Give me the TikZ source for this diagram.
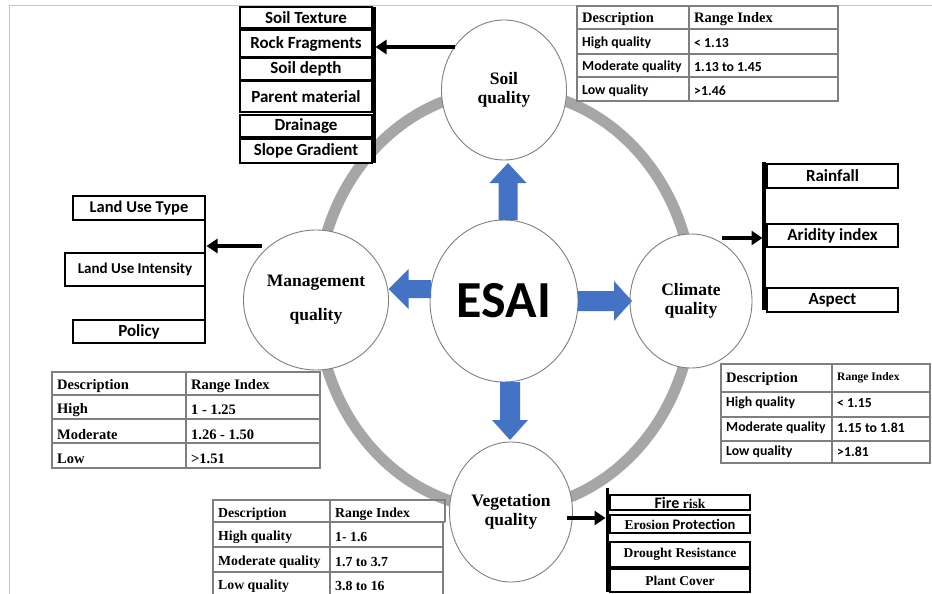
\documentclass[tikz,border=0pt]{standalone}
\usepackage{fontspec}
\setmainfont{Liberation Serif}
\newfontfamily\calfont{Carlito}
\usetikzlibrary{shapes.geometric,arrows.meta,calc}
\definecolor{ringgray}{HTML}{A6A6A6}
\definecolor{esaiblue}{HTML}{4472C4}
\definecolor{tabline}{HTML}{7F7F7F}
\definecolor{framegray}{HTML}{C8C8C8}
\newcommand\esaiblockarrow[5]{% from, to, shaft half width, head half width, head length
  \coordinate (bah) at ($(#2)!#5!(#1)$);
  \fill[esaiblue] ($(#1)!#3!90:(#2)$) -- ($(bah)!#3!90:(#2)$) -- ($(bah)!#4!90:(#2)$) -- (#2)
    -- ($(bah)!#4!-90:(#2)$) -- ($(bah)!#3!-90:(#2)$) -- ($(#1)!#3!-90:(#2)$) -- cycle;
}
\begin{document}
\begin{tikzpicture}[x=1pt,y=-1pt,
  qcircle/.style={ellipse, draw=tabline, line width=0.9pt, fill=white, inner sep=0pt, outer sep=0pt,
    align=center, font=\fontsize{17.5}{19}\selectfont\bfseries},
  listbox/.style={draw=black, line width=2.4pt, fill=white, inner sep=0pt,
    font=\calfont\bfseries\fontsize{17}{18}\selectfont},
  serbox/.style={listbox, font=\bfseries\fontsize{13.5}{15}\selectfont},
  vbar/.style={line width=3pt, draw=black},
  blackarrow/.style={line width=3.6pt, -{Triangle[length=11pt,width=14pt]}, shorten >=1.5pt},
  tline/.style={draw=tabline, line width=1.1pt},
  tser/.style={anchor=west, inner sep=0pt, font=\bfseries\fontsize{14.5}{16}\selectfont},
  tcal/.style={anchor=west, inner sep=0pt, font=\calfont\bfseries\fontsize{13.8}{16}\selectfont},
  vser/.style={tser, font=\bfseries\fontsize{13.8}{16}\selectfont},
]
\useasboundingbox (0,0) rectangle (932,594);
\fill[white] (0,0) rectangle (932,594);
% page frame
\draw[framegray, line width=0.8pt] (9,600) -- (9,5) -- (932,5);

% ring
\draw[ringgray, line width=11pt] (505,300) ellipse [x radius=188pt, y radius=210pt];

% circles
\node[qcircle, minimum width=125pt, minimum height=140pt] (soil) at (504,90) {Soil\\quality};
\node[qcircle, minimum width=122pt, minimum height=134pt] (climate) at (691,301) {Climate\\quality};
\node[qcircle, minimum width=145pt, minimum height=140pt] (mgmt) at (316,300) {Management\\[15pt]quality};
\node[qcircle, minimum width=123pt, minimum height=140pt] (veg) at (511,512) {Vegetation\\quality};
\node[qcircle, minimum width=148pt, minimum height=162pt, font=\calfont\bfseries\fontsize{52}{60}\selectfont] (esai) at (504,301) {ESAI};

% blue arrows
\coordinate (u1) at ($(esai.north)+(4,0)$);
\coordinate (u2) at ($(soil.south)+(4,3)$);
\esaiblockarrow{u1}{u2}{9.5pt}{18.5pt}{20pt}
\coordinate (r1) at (esai.east);
\coordinate (r2) at ($(climate.west)+(2,0)$);
\esaiblockarrow{r1}{r2}{10pt}{20pt}{18pt}
\coordinate (d1) at ($(esai.south)+(6,0)$);
\coordinate (d2) at ($(veg.north)+(-1,-2)$);
\esaiblockarrow{d1}{d2}{10pt}{18pt}{20pt}
\coordinate (l1) at ($(esai.west)+(1,-12)$);
\coordinate (l2) at ($(mgmt.east)+(0,-11)$);
\esaiblockarrow{l1}{l2}{9pt}{20pt}{20pt}

% ---- soil list
\node[listbox, minimum width=132pt, minimum height=21pt] (s1) at (306,17.5) {Soil Texture};
\node[listbox, minimum width=132pt, minimum height=27pt] (s2) at (306,43.5) {Rock Fragments};
\node[listbox, minimum width=132pt, minimum height=22pt] (s3) at (306,69) {Soil depth};
\node[listbox, minimum width=132pt, minimum height=31pt] (s4) at (306,96.5) {Parent material};
\node[listbox, minimum width=132pt, minimum height=22pt] (s5) at (306,126) {Drainage};
\node[listbox, minimum width=132pt, minimum height=24pt] (s6) at (306,151) {Slope Gradient};
\coordinate (sbt) at (374,7);
\coordinate (sbb) at (374,163);
\draw[vbar] (sbt) -- (sbb);
\coordinate (sfrom) at (455,47);
\draw[blackarrow] (sfrom) -- (sfrom -| sbt);

% ---- management list
\node[listbox, minimum width=132pt, minimum height=24pt, font=\calfont\bfseries\fontsize{16.5}{18}\selectfont] (m1) at (139,208) {Land Use Type};
\node[listbox, minimum width=140pt, minimum height=33pt, font=\calfont\bfseries\fontsize{15}{16}\selectfont] (m2) at (135,269.5) {Land Use Intensity};
\node[listbox, minimum width=132pt, minimum height=23pt] (m3) at (139,331.5) {Policy};
\coordinate (mbt) at (205,196);
\coordinate (mbb) at (205,343);
\draw[vbar, line width=2.4pt] (mbt) -- (mbb);
\coordinate (mfrom) at (262,246);
\draw[blackarrow] (mfrom) -- (mfrom -| mbt);

% ---- climate list
\node[listbox, minimum width=131pt, minimum height=24pt] (c1) at (832.5,176) {Rainfall};
\node[listbox, minimum width=131pt, minimum height=23pt] (c2) at (832.5,235.5) {Aridity index};
\node[listbox, minimum width=131pt, minimum height=24pt] (c3) at (832.5,300) {Aspect};
\coordinate (cbt) at (764,162);
\coordinate (cbb) at (764,310);
\draw[vbar, line width=3.5pt] (cbt) -- (cbb);
\coordinate (cfrom) at (722,238);
\draw[blackarrow] (cfrom) -- (cfrom -| cbt);

% ---- vegetation list
\node[serbox, minimum width=140pt, minimum height=15pt] (v1) at (680,502.5) {{\calfont\fontsize{16}{16}\selectfont Fire} risk};
\node[serbox, minimum width=140pt, minimum height=18pt] (v2) at (680,524) {Erosion {\calfont\fontsize{14.5}{15}\selectfont Protection}};
\node[serbox, minimum width=140pt, minimum height=25pt] (v3) at (680,554.5) {Drought Resistance};
\node[serbox, minimum width=140pt, minimum height=23pt] (v4) at (680,580.5) {Plant Cover};
\coordinate (vbt) at (607,488);
\coordinate (vbb) at (607,592);
\draw[vbar] (vbt) -- (vbb);
\coordinate (vfrom) at (567,518);
\draw[blackarrow] (vfrom) -- (vfrom -| vbt);

% ---- soil table
\draw[tline] (577,6) rectangle (838,101);
\draw[tline] (577,29) -- (838,29) (577,54) -- (838,54) (577,77) -- (838,77) (689,6) -- (689,101);
\node[tser] (st0a) at (582,19.5) {Description};
\node[tser] (st0b) at (694,19.5) {Range Index};
\node[tcal] (st1a) at (582,43) {High quality};
\node[tcal] (st1b) at (694,43) {< 1.13};
\node[tcal] (st2a) at (582,67) {Moderate quality};
\node[tcal] (st2b) at (694,67) {1.13 to 1.45};
\node[tcal] (st3a) at (582,91) {Low quality};
\node[tcal] (st3b) at (694,91) {>1.46};

% ---- management table
\draw[tline] (52,372) rectangle (320,468);
\draw[tline] (52,395) -- (320,395) (52,419) -- (320,419) (52,443) -- (320,443) (186,372) -- (186,468);
\node[tser] (mt0a) at (57,386) {Description};
\node[tser] (mt0b) at (191,386) {Range Index};
\node[tser] (mt1a) at (57,410) {High};
\node[tser] (mt1b) at (191,410) {1 - 1.25};
\node[tser] (mt2a) at (57,434.5) {Moderate};
\node[tser] (mt2b) at (191,434.5) {1.26 - 1.50};
\node[tser] (mt3a) at (57,458.5) {Low};
\node[tser] (mt3b) at (191,458.5) {>1.51};

% ---- climate table
\draw[tline] (721,364) rectangle (930,463);
\draw[tline] (721,392) -- (930,392) (721,417) -- (930,417) (721,441) -- (930,441) (832,364) -- (832,463);
\node[tser] (ct0a) at (726,379) {Description};
\node[tser, font=\bfseries\fontsize{11.5}{13}\selectfont] (ct0b) at (837,378) {Range Index};
\node[tcal] (ct1a) at (726,403) {High quality};
\node[tcal] (ct1b) at (837,403) {< 1.15};
\node[tcal] (ct2a) at (726,427.5) {Moderate quality};
\node[tcal] (ct2b) at (837,427.5) {1.15 to 1.81};
\node[tcal] (ct3a) at (726,451.5) {Low quality};
\node[tcal] (ct3b) at (837,451.5) {>1.81};

% ---- vegetation table
\draw[tline] (213,600) -- (213,500) -- (445,500) -- (445,522) (443,522) -- (443,600);
\draw[tline] (213,522) -- (445,522) (213,547) -- (443,547) (213,572) -- (443,572) (330,500) -- (330,600);
\node[vser] (vt0a) at (218,514) {Description};
\node[vser] (vt0b) at (335,514) {Range Index};
\node[vser] (vt1a) at (218,537.5) {High quality};
\node[vser] (vt1b) at (335,537.5) {1- 1.6};
\node[vser] (vt2a) at (218,562) {Moderate quality};
\node[vser] (vt2b) at (335,562) {1.7 to 3.7};
\node[vser] (vt3a) at (218,586) {Low quality};
\node[vser] (vt3b) at (335,586) {3.8 to 16};
\end{tikzpicture}
\end{document}
